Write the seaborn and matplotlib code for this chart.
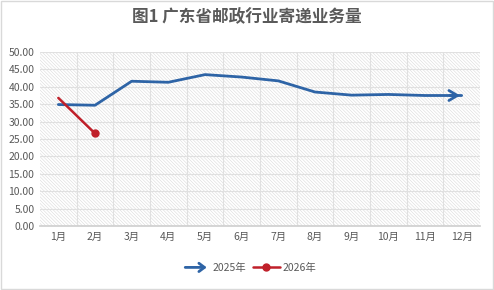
import matplotlib
matplotlib.use("Agg")
import matplotlib.pyplot as plt
import seaborn as sns
import pandas as pd
from matplotlib.patches import Rectangle, FancyArrowPatch
from matplotlib.lines import Line2D
from matplotlib.legend_handler import HandlerPatch

months = ["1月", "2月", "3月", "4月", "5月", "6月", "7月", "8月", "9月", "10月", "11月", "12月"]
vals_2025 = [34.9, 34.7, 41.6, 41.3, 43.5, 42.8, 41.7, 38.5, 37.6, 37.8, 37.5, 37.5]
months_2026 = ["1月", "2月"]
vals_2026 = [36.8, 26.6]
yticks = [0, 5, 10, 15, 20, 25, 30, 35, 40, 45, 50]
title = "图1 广东省邮政行业寄递业务量"
label_2025 = "2025年"
label_2026 = "2026年"

sns.set_theme(style="white")
plt.rcParams['font.family'] = ['Noto Sans CJK SC', 'DejaVu Sans']
plt.rcParams['hatch.linewidth'] = 0.4

BLUE = '#2e64a6'
RED = '#c0202a'

fig = plt.figure(figsize=(4.94, 2.9), dpi=100)
ax = fig.add_axes([40/494, 1-226/290, 440/494, 174/290])

x_idx = {m: i for i, m in enumerate(months)}
df25 = pd.DataFrame({"x": [x_idx[m] for m in months], "y": vals_2025})
df26 = pd.DataFrame({"x": [x_idx[m] for m in months_2026], "y": vals_2026})

# hatched background
ax.add_patch(Rectangle((-0.5, 0), 12, 50, facecolor='white', edgecolor='#dadada', lw=0,
                       hatch='\\' * 10, zorder=0))

sns.lineplot(data=df25, x="x", y="y", ax=ax, color=BLUE, linewidth=2.0, zorder=3)
sns.lineplot(data=df26, x="x", y="y", ax=ax, color=RED, linewidth=1.8, zorder=4)
ax.plot(df26["x"].iloc[-1], df26["y"].iloc[-1], 'o', color=RED, markersize=5, zorder=5)
# arrow head on 2025 series
ax.annotate("", xy=(df25["x"].iloc[-1] + 0.03, df25["y"].iloc[-1]),
            xytext=(df25["x"].iloc[-2] + 0.6, df25["y"].iloc[-1]),
            arrowprops=dict(arrowstyle='->,head_length=0.5,head_width=0.3', color=BLUE, lw=2.0),
            zorder=5)

ax.set_xlim(-0.5, 11.5)
ax.set_ylim(0, 50)
ax.set_yticks(yticks)
ax.set_yticklabels([f"{v:.2f}" for v in yticks], fontsize=7.5, color='#595959')
ax.set_xticks(range(len(months)))
ax.set_xticklabels(months, fontsize=7.5, color='#595959')
ax.set_xlabel("")
ax.set_ylabel("")
for v in yticks[1:]:
    ax.axhline(v, color='#e0e0e0', lw=0.8, zorder=1)
for i in range(1, 12):
    ax.axvline(i - 0.5, color='#e0e0e0', lw=0.8, zorder=1)
for s in ['top', 'right', 'left']:
    ax.spines[s].set_visible(False)
ax.spines['bottom'].set_color('#d0d0d0')
ax.tick_params(axis='both', length=0, pad=4)

fig.text(0.5, 1-17/290, title, ha='center', va='center', fontsize=12,
         fontweight='bold', color='#5a5a5a')


class ArrowHandler(HandlerPatch):
    def create_artists(self, legend, orig_handle, xdescent, ydescent, width, height, fontsize, trans):
        a = FancyArrowPatch((-xdescent, height/2), (width - xdescent, height/2),
                            arrowstyle='->,head_length=4,head_width=3', color=BLUE, lw=2.0,
                            mutation_scale=1)
        a.set_transform(trans)
        return [a]


h1 = FancyArrowPatch((0, 0), (1, 0), color=BLUE)
h2 = Line2D([], [], color=RED, lw=1.8, marker='o', markersize=5, markevery=[1])
h2.set_data([0, 1], [0, 0])
leg = fig.legend([h1, h2], [label_2025, label_2026], loc='center', bbox_to_anchor=(0.505, 1-268/290),
                 ncol=2, frameon=False, fontsize=7.5, handlelength=2.6, handletextpad=0.3,
                 columnspacing=0.6, handler_map={FancyArrowPatch: ArrowHandler()})
for t in leg.get_texts():
    t.set_color('#595959')

fig.patches.append(Rectangle((0.002, 0.003), 0.996, 0.994, transform=fig.transFigure,
                             fill=False, edgecolor='#d9d9d9', lw=1.0))
fig.savefig("out.png", dpi=100)
